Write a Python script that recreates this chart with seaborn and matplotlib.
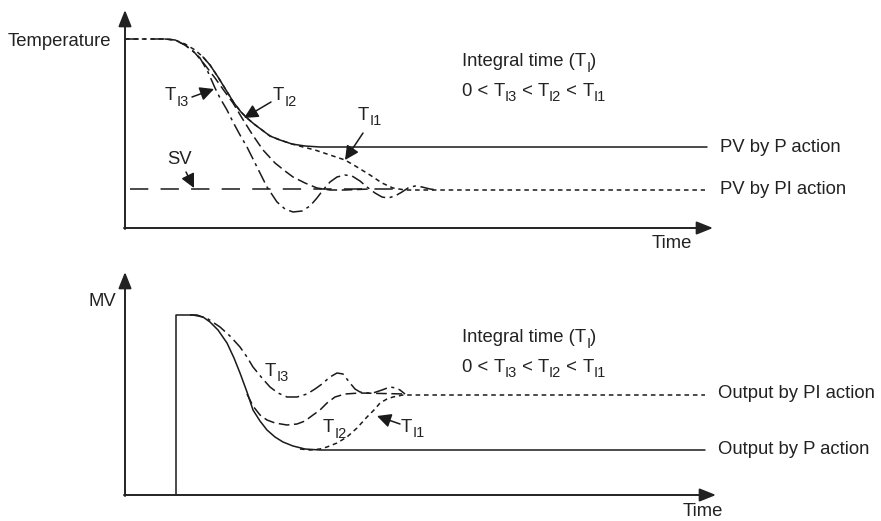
import matplotlib
matplotlib.use("Agg")
import matplotlib.pyplot as plt
import seaborn as sns
import pandas as pd

sns.set_theme(style="white")
plt.rcParams['font.family'] = ['Liberation Sans', 'DejaVu Sans']

# ---------------- data (schematic coordinates) ----------------
# Top panel: PV (temperature) responses
top_P_x = [203, 210, 218, 226, 234, 241, 247, 254, 262, 270, 280, 292, 305, 320, 707]
top_P_y = [57, 65, 77, 90, 103, 112, 118, 124, 130, 136, 140, 144, 146, 147, 147]

top_TI1_x = [125, 165, 175, 185, 195, 203, 210, 218, 226, 234, 241, 247, 254, 262, 270, 280, 292,
             303, 315, 330, 345, 357, 370, 382, 393, 405, 705]
top_TI1_y = [39, 39, 40, 44, 50, 57, 65, 77, 90, 103, 112, 118, 124, 130, 136, 140, 144,
             147, 150, 155, 160, 167, 175, 183, 188, 190, 190]

top_TI2_x = [165, 175, 185, 195, 205, 215, 225, 233, 242, 252, 263, 275, 285, 293, 305, 317, 330, 345, 370]
top_TI2_y = [39, 40, 45, 53, 65, 78, 92, 103, 118, 134, 150, 163, 171, 177, 183, 188, 190, 190, 189]

top_TI3_x = [125, 165, 175, 185, 193, 200, 208, 215, 220, 227, 233, 240, 247, 257, 267, 277, 285, 293,
             302, 310, 317, 323, 330, 337, 345, 352, 360, 367, 375, 382, 388, 395, 402, 408, 415, 422,
             430, 437]
top_TI3_y = [39, 39, 40, 45, 51, 58, 72, 88, 98, 110, 122, 135, 147, 167, 187, 202, 209, 212,
             211, 206, 198, 190, 182, 177, 175, 176, 181, 187, 193, 197, 198, 196, 192, 188, 186, 187,
             189, 190]

top_SV_x = [130, 400]
top_SV_y = [189, 189]

# Bottom panel: MV (output) responses
bot_P_x = [176, 176, 193, 203, 210, 218, 227, 234, 240, 247, 253, 260, 267, 275, 283, 293, 305, 320, 705]
bot_P_y = [495, 315, 315, 317, 322, 330, 343, 358, 373, 392, 410, 421, 430, 437, 442, 446, 449, 450, 450]

bot_TI1_x = [300, 310, 320, 327, 337, 347, 357, 367, 375, 380, 387, 393, 403, 705]
bot_TI1_y = [449, 450, 449, 447, 443, 437, 428, 417, 409, 403, 399, 397, 395, 395]

bot_TI2_x = [247, 253, 260, 267, 275, 287, 297, 305, 313, 320, 327, 335, 345, 360, 405]
bot_TI2_y = [394, 406, 415, 420, 423, 425, 424, 421, 415, 410, 403, 397, 394, 393, 394]

bot_TI3_x = [190, 197, 208, 220, 230, 240, 247, 253, 262, 270, 278, 287, 297, 307, 315, 322, 330,
             337, 343, 350, 355, 360, 367, 373, 382, 390, 396, 400, 405]
bot_TI3_y = [315, 315, 319, 327, 336, 347, 357, 367, 378, 387, 393, 397, 397, 394, 389, 384, 377,
             373, 374, 383, 389, 392, 393, 393, 390, 387, 388, 390, 394]

# ---------------- figure ----------------
W, H = 881, 521
fig = plt.figure(figsize=(W / 100, H / 100), dpi=100)
ax = fig.add_axes([0, 0, 1, 1])

K = '#1a1a1a'
LW = 1.1
solid = '-'
dotted = (0, (3, 2.5))
dashed = (0, (7, 3))
dashdot = (0, (9, 3, 2, 3))
svdash = (0, (12, 8))


def curve(xs, ys, ls, lw=LW):
    df = pd.DataFrame({'x': xs, 'y': ys})
    sns.lineplot(data=df, x='x', y='y', sort=False, estimator=None, ax=ax,
                 color=K, linewidth=lw, linestyle=ls)


curve(top_TI1_x, top_TI1_y, dotted)
curve(top_TI2_x, top_TI2_y, dashed)
curve(top_TI3_x, top_TI3_y, dashdot)
curve(top_SV_x, top_SV_y, svdash)
curve(top_P_x, top_P_y, solid)

curve(bot_TI1_x, bot_TI1_y, dotted)
curve(bot_TI2_x, bot_TI2_y, dashed)
curve(bot_TI3_x, bot_TI3_y, dashdot)
curve(bot_P_x, bot_P_y, solid)

ax.set_xlim(0, W)
ax.set_ylim(H, 0)
ax.axis('off')

# axes with arrows
axis_arrow = dict(arrowstyle='-|>,head_length=0.55,head_width=0.22', color='#222222', lw=1.4,
                  mutation_scale=18, shrinkA=0, shrinkB=0)
ax.annotate('', xy=(125, 10), xytext=(125, 229), arrowprops=axis_arrow)
ax.annotate('', xy=(713, 228), xytext=(124, 228), arrowprops=axis_arrow)
ax.annotate('', xy=(125, 272), xytext=(125, 496), arrowprops=axis_arrow)
ax.annotate('', xy=(716, 495), xytext=(124, 495), arrowprops=axis_arrow)

FS = 13.3
SFS = 10.5
TC = '#222222'
renderer = fig.canvas.get_renderer()


def txt(x, y, s):
    ax.text(x, y, s, fontsize=FS, color=TC, ha='left', va='center')


def rich(x, y, segs):
    """segs: list of (string, is_subscript); y is the vertical centre of the main text."""
    cx = x
    for s, sub in segs:
        if sub:
            t = ax.text(cx, y + 6, s, fontsize=SFS, color=TC, ha='left', va='center')
        else:
            t = ax.text(cx, y, s, fontsize=FS, color=TC, ha='left', va='center')
        bb = t.get_window_extent(renderer=renderer)
        cx += bb.width


def T(sub):
    return [('T', False), (sub, True)]


# top panel text
txt(8, 41, 'Temperature')
rich(462, 62, [('Integral time (T', False), ('I', True), (')', False)])
rich(462, 91, [('0 < ', False)] + T('I3') + [(' < ', False)] + T('I2') + [(' < ', False)] + T('I1'))
txt(720, 147, 'PV by P action')
txt(720, 190, 'PV by PI action')
txt(652, 243, 'Time')

# bottom panel text
txt(88, 302, 'MV')
rich(462, 338, [('Integral time (T', False), ('I', True), (')', False)])
rich(462, 367, [('0 < ', False)] + T('I3') + [(' < ', False)] + T('I2') + [(' < ', False)] + T('I1'))
txt(718, 394, 'Output by PI action')
txt(718, 450, 'Output by P action')
txt(683, 511, 'Time')

# callout labels with arrows
call = dict(arrowstyle='-|>,head_length=0.6,head_width=0.3', color=K, lw=1.1,
            mutation_scale=14, shrinkA=0, shrinkB=0)

rich(165, 96, T('I3'))
ax.annotate('', xy=(214, 89), xytext=(192, 97), arrowprops=call)
rich(273, 96, T('I2'))
ax.annotate('', xy=(244, 118), xytext=(271, 102), arrowprops=call)
rich(358, 115, T('I1'))
ax.annotate('', xy=(345, 160), xytext=(363, 133), arrowprops=call)
txt(167, 160, 'SV')
ax.annotate('', xy=(194, 188), xytext=(186, 172), arrowprops=call)

rich(265, 371, T('I3'))
rich(323, 428, T('I2'))
rich(401, 427, T('I1'))
ax.annotate('', xy=(377, 416), xytext=(400, 424), arrowprops=call)

fig.savefig('out.png', dpi=100)
